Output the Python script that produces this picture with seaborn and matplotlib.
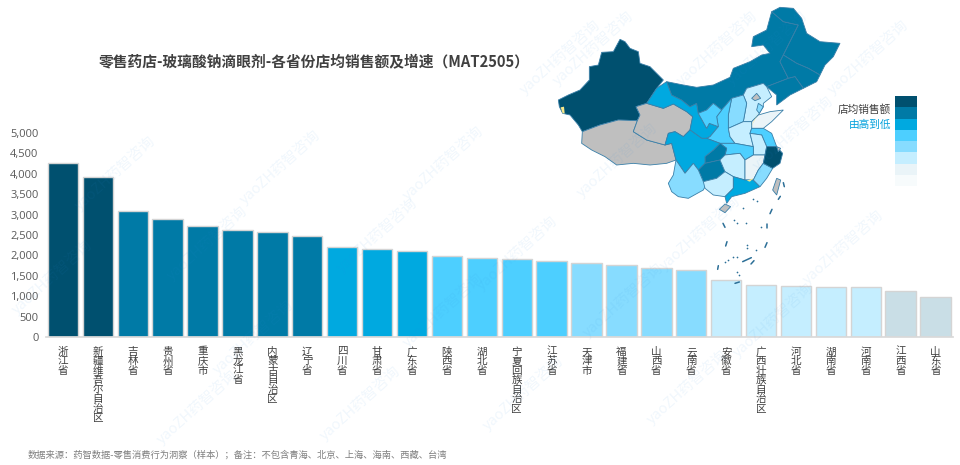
import numpy as np
import pandas as pd
import matplotlib.pyplot as plt
import seaborn as sns

W, H = 960, 465
CJK = ['Noto Sans CJK SC', 'DejaVu Sans']

# 柱状图数据
provinces = ['浙江省', '新疆维吾尔自治区', '吉林省', '贵州省', '重庆市', '黑龙江省', '内蒙古自治区', '辽宁省',
             '四川省', '甘肃省', '广东省', '陕西省', '湖北省', '宁夏回族自治区', '江苏省', '天津市', '福建省',
             '山西省', '云南省', '安徽省', '广西壮族自治区', '河北省', '湖南省', '河南省', '江西省', '山东省']
sales = [4255, 3918, 3098, 2900, 2720, 2620, 2575, 2467, 2205, 2165, 2105, 1990, 1925,
         1910, 1860, 1810, 1762, 1690, 1640, 1385, 1270, 1262, 1220, 1220, 1120, 985]
levels = [0, 0, 1, 1, 1, 1, 1, 1, 2, 2, 2, 3, 3, 3, 3, 4, 4, 4, 4, 5, 5, 5, 5, 5, 6, 6]
level_colors = ['#00506f', '#007aa6', '#00a9e0', '#4dcfff', '#87dcff', '#c5eeff', '#c9dee6']
y_ticks = [0, 500, 1000, 1500, 2000, 2500, 3000, 3500, 4000, 4500, 5000]
legend_colors = ['#00506f', '#007aa6', '#00a9e0', '#4dcfff', '#87dcff', '#c5eeff', '#eaf4f8', '#f7fbfc']

# 地图轮廓，坐标是示意图上的位置
xinjiang = [(25,300),(55,285),(90,270),(118,240),(118,200),(145,195),(155,157),(190,155),(210,118),(225,125),(240,145),(265,155),(270,190),(300,200),(340,240),(320,265),(290,310),(258,320),(270,345),(262,362),(205,360),(150,375),(97,395),(85,375),(60,345),(38,340),(28,320)]
tibet = [(97,395),(150,375),(205,360),(262,362),(250,395),(290,420),(345,435),(365,430),(378,480),(350,490),(300,495),(250,490),(200,495),(165,470),(125,450),(95,430)]
qinghai = [(258,320),(290,310),(340,325),(370,312),(410,335),(428,350),(420,390),(400,410),(375,395),(355,400),(345,435),(290,420),(250,395),(262,362),(270,345)]
gansu = [(290,310),(320,265),(350,245),(365,285),(395,300),(420,320),(440,310),(445,340),(470,385),(478,370),(505,380),(480,410),(470,415),(455,415),(420,390),(428,350),(410,335),(370,312),(340,325)]
neimenggu = [(350,245),(400,255),(440,262),(490,255),(540,232),(550,205),(600,185),(635,165),(660,160),(640,135),(605,140),(610,110),(650,90),(665,35),(700,65),(745,75),(735,95),(700,165),(690,185),(715,235),(650,260),(640,250),(590,265),(580,285),(545,295),(515,330),(490,310),(470,330),(445,340),(440,310),(420,320),(395,300),(365,285)]
heilongjiang = [(665,35),(690,22),(730,25),(755,55),(770,100),(810,125),(870,130),(850,170),(825,195),(810,225),(775,205),(740,190),(700,165),(735,95),(745,75),(700,65)]
jilin = [(700,165),(740,190),(775,205),(810,225),(800,245),(760,265),(735,230),(715,235),(690,185)]
liaoning = [(715,235),(735,230),(760,265),(720,285),(680,315),(680,285),(650,260)]
hebei = [(580,285),(590,265),(640,250),(650,260),(665,290),(640,310),(640,320),(625,345),(605,365),(580,365),(590,310)]
beijing = [(605,295),(620,280),(632,295),(615,302)]
tianjin = [(625,310),(640,320),(628,340),(620,330)]
shanxi = [(545,295),(580,285),(590,310),(580,365),(535,385),(535,345)]
shandong = [(605,365),(625,345),(660,335),(700,330),(665,365),(640,385),(605,385)]
shaanxi = [(515,330),(545,295),(535,345),(535,385),(540,410),(555,430),(510,430),(470,415),(480,410),(505,380),(500,350)]
ningxia = [(470,330),(490,310),(515,330),(500,350),(505,380),(478,370),(470,385),(445,340)]
henan = [(535,385),(580,365),(605,365),(605,385),(600,400),(610,440),(555,430),(540,410)]
jiangsu = [(605,385),(640,385),(665,400),(680,440),(650,440),(635,405),(600,400)]
anhui = [(600,400),(635,405),(650,440),(645,465),(610,465),(610,440)]
hubei = [(510,430),(555,430),(610,440),(610,465),(585,480),(570,460),(525,465),(530,445)]
chongqing = [(465,490),(465,470),(490,450),(510,430),(530,445),(525,465),(510,480)]
sichuan = [(355,400),(375,395),(400,410),(420,390),(455,415),(470,415),(510,430),(490,450),(465,470),(465,490),(445,510),(430,490),(405,520),(378,480),(365,430),(345,435)]
guizhou = [(445,510),(465,490),(510,480),(525,515),(500,535),(460,545)]
yunnan = [(378,480),(405,520),(430,490),(445,510),(460,545),(470,550),(460,570),(415,595),(385,590),(365,575),(355,550),(370,525)]
hunan = [(525,465),(570,460),(585,480),(585,540),(550,530),(525,515),(510,480)]
guangxi = [(460,545),(500,535),(525,515),(550,530),(550,565),(525,590),(490,585),(465,565)]
jiangxi = [(585,480),(610,465),(645,465),(640,490),(625,510),(610,540),(585,540)]
guangdong = [(550,530),(585,540),(610,540),(630,560),(585,580),(545,590),(530,610),(525,590),(550,565)]
fujian = [(625,510),(640,490),(668,505),(650,535),(630,560),(610,540)]
zhejiang = [(645,465),(650,440),(680,440),(698,460),(690,490),(668,505),(640,490)]
taiwan = [(680,535),(692,540),(680,585),(668,570)]
hainan = [(508,628),(525,612),(542,620),(525,638)]
shanghai = [(680,440),(692,445),(685,455)]
map_shapes = [(xinjiang, 0), (tibet, 7), (qinghai, 7), (gansu, 2), (neimenggu, 1), (heilongjiang, 1), (jilin, 1),
              (liaoning, 1), (hebei, 5), (beijing, 7), (tianjin, 4), (shanxi, 4), (shandong, 6), (shaanxi, 3),
              (ningxia, 3), (henan, 5), (jiangsu, 3), (anhui, 5), (hubei, 3), (chongqing, 1), (sichuan, 2),
              (guizhou, 1), (yunnan, 4), (hunan, 5), (guangxi, 5), (jiangxi, 6), (guangdong, 2), (fujian, 4),
              (zhejiang, 0), (taiwan, 7), (hainan, 7), (shanghai, 7)]
map_colors = level_colors[:6] + ['#eaf4f8', '#bfbfbf']
dash_lines = [[(700,548),(703,560)], [(685,598),(691,589)], [(660,641),(666,628)], [(650,671),(650,683)],
              [(651,728),(645,742)], [(531,725),(527,738)], [(519,670),(525,682)], [(505,797),(503,808)],
              [(578,785),(604,773)], [(603,792),(612,782)], [(555,850),(568,846)]]
island_x = [608, 620, 578, 552, 560, 587, 634, 590, 592, 617, 550, 560, 535, 525, 562, 566]
island_y = [598, 602, 625, 660, 668, 670, 682, 735, 745, 750, 770, 772, 780, 785, 815, 825]
yellow_bits = [[(32,322),(42,320),(44,340),(38,340)], [(603,380),(625,337),(612,365)], [(590,542),(610,535),(600,545)]]

# 水印位置
wm_x = [115, 280, 443, 377, 197, 360, 443, 207, 253, 52, 560, 717, 868, 793, 617, 700, 593, 767, 517, 843, 623, 773, 523, 687]
wm_y = [173, 167, 163, 235, 407, 403, 310, 243, 337, 277, 57, 48, 57, 133, 160, 233, 48, 48, 253, 247, 300, 320, 393, 387]

sns.set_theme(style='white')
plt.rcParams['font.family'] = CJK

df = pd.DataFrame({'province': provinces, 'sales': sales})
bar_colors = [level_colors[i] for i in levels]

fig = plt.figure(figsize=(W / 100, H / 100), dpi=100)
ax = fig.add_axes([45.5 / W, 1 - 337 / H, (953 - 45.5) / W, 204 / H])
sns.barplot(data=df, x='province', y='sales', hue='province', palette=bar_colors, legend=False, saturation=1,
            width=0.87, edgecolor='#d4d4d4', linewidth=1.0, ax=ax)
ax.set_xlim(-0.5, 25.5)
ax.set_ylim(0, 5000)
ax.set_xlabel('')
ax.set_ylabel('')
ax.set_yticks(y_ticks)
ax.set_yticklabels([f'{v:,}' for v in y_ticks], fontsize=8, color='#595959', fontfamily='Open Sans')
ax.set_xticks(range(len(provinces)))
ax.set_xticklabels(['\n'.join(p) for p in provinces], fontsize=7.6, color='#404040', linespacing=0.93, va='top')
ax.set_xticks(np.arange(-0.5, 26), minor=True)
ax.tick_params(axis='x', which='major', length=0, pad=7)
ax.tick_params(axis='x', which='minor', length=3, width=0.8, color='#d9d9d9')
ax.tick_params(axis='y', length=0, pad=5)
sns.despine(ax=ax, left=True)
ax.spines['bottom'].set_color('#d9d9d9')
ax.patch.set_alpha(0)

# 地图
mp = fig.add_axes([550 / W, 1 - 290 / H, 380 / W, 290 / H])
mp.set_xlim(0, 1140)
mp.set_ylim(870, 0)
mp.axis('off')
for pts, c in map_shapes:
    xs, ys = zip(*pts)
    mp.fill(xs, ys, facecolor=map_colors[c], edgecolor='#3a7fa8', linewidth=0.6)
for pts in yellow_bits:
    xs, ys = zip(*pts)
    mp.fill(xs, ys, facecolor='#f7e88a', edgecolor='none')
for seg in dash_lines:
    xs, ys = zip(*seg)
    mp.plot(xs, ys, color='#2c6f97', lw=1.1)
mp.scatter(island_x, island_y, s=1.5, color='#2c6f97', linewidths=0)

# 图例色块
lg = fig.add_axes([895 / W, 1 - 186 / H, 22 / W, 90 / H])
sns.heatmap(np.arange(len(legend_colors)).reshape(-1, 1), cmap=legend_colors, cbar=False, ax=lg,
            xticklabels=False, yticklabels=False)
fig.text(891 / W, 1 - 109 / H, '店均销售额', ha='right', va='center', fontsize=7.7, color='#404040')
fig.text(891 / W, 1 - 125 / H, '由高到低', ha='right', va='center', fontsize=7.7, color='#00a0dc')

fig.text(99 / W, 1 - 62 / H, '零售药店-玻璃酸钠滴眼剂-各省份店均销售额及增速（MAT2505）', ha='left', va='center',
         fontsize=10.6, fontweight='bold', color='#404040')
fig.text(28 / W, 1 - 455 / H, '数据来源：药智数据-零售消费行为洞察（样本）；备注：不包含青海、北京、上海、海南、西藏、台湾',
         ha='left', va='center', fontsize=6.68, color='#7f7f7f')

for x, y in zip(wm_x, wm_y):
    fig.text(x / W, 1 - y / H, 'yaoZH药智咨询', ha='center', va='center', rotation=42, fontsize=10.5,
             color='#2f8fe0', alpha=0.07)

fig.savefig('out.png', dpi=100)
